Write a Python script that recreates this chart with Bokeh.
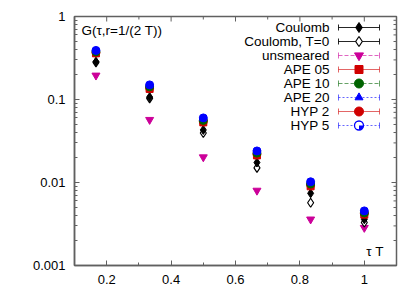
from bokeh.plotting import figure
from bokeh.models import FixedTicker, CustomJSTickFormatter, Range1d
from bokeh.embed import file_html
from bokeh.resources import INLINE
from bokeh.core.properties import value
import math

# ---------------- data ----------------
tau_T = [1/6, 2/6, 3/6, 4/6, 5/6, 1.0]
coulomb      = [0.285, 0.107, 0.043, 0.0174, 0.0074, 0.0036]
coulomb_T0   = [0.280, 0.103, 0.0395, 0.0150, 0.0057, 0.0033]
unsmeared    = [0.195, 0.057, 0.0202, 0.0080, 0.0036, 0.00285]
ape05        = [0.360, 0.134, 0.053, 0.0212, 0.0090, 0.0041]
ape10        = [0.375, 0.142, 0.056, 0.0226, 0.0096, 0.0043]
ape20        = [0.385, 0.148, 0.059, 0.0237, 0.0101, 0.0045]
hyp2         = [0.365, 0.137, 0.054, 0.0218, 0.0093, 0.0042]
hyp5         = [0.390, 0.150, 0.060, 0.0240, 0.0102, 0.00455]

x_ticks = [0.2, 0.4, 0.6, 0.8, 1.0]
x_minor = [0.1, 0.3, 0.5, 0.7, 0.9, 1.1]
y_ticks = [0.001, 0.01, 0.1, 1.0]
title_text = "G(τ,r=1/(2 T))"
xlabel_text = "τ T"

FONT = "Liberation Sans"
MAGENTA = "#cc0099"
RED = "#d00000"
GREEN = "#006400"
BLUE = "#0000ff"
AXC = "#606060"

# series: (label, values, marker, color, fill, dash)
series = [
    ("Coulomb", coulomb, "diamond", "black", "black", "solid"),
    ("Coulomb, T=0", coulomb_T0, "diamond", "black", "white", "solid"),
    ("unsmeared", unsmeared, "inverted_triangle", MAGENTA, MAGENTA, "4 2"),
    ("APE 05", ape05, "square", RED, RED, "solid"),
    ("APE 10", ape10, "circle", GREEN, GREEN, "4 2"),
    ("APE 20", ape20, "triangle", BLUE, BLUE, "2 2"),
    ("HYP 2", hyp2, "circle", RED, RED, "solid"),
    ("HYP 5", hyp5, "circle", BLUE, BLUE, "2 2"),
]
sizes = {"diamond": 9, "inverted_triangle": 8, "square": 7, "circle": 8, "triangle": 7}

W, H = 412, 286
BL, BR, BT, BB = 74, 16, 16, 21
X0, X1 = 0.1, 1.1
Y0, Y1 = 0.001, 1.0

p = figure(width=W, height=H, output_backend="svg", toolbar_location=None,
           x_axis_type="linear", y_axis_type="log",
           x_range=Range1d(X0, X1), y_range=Range1d(Y0, Y1),
           min_border_left=BL, min_border_right=BR, min_border_top=BT, min_border_bottom=BB)
p.xgrid.visible = False
p.ygrid.visible = False
p.outline_line_color = AXC
p.outline_line_width = 1.5
p.background_fill_color = "white"
p.border_fill_color = "white"

FW = W - BL - BR
FH = H - BT - BB
def px2x(px):
    return X0 + (px - BL) / FW * (X1 - X0)
def py2y(py):
    frac = (py - BT) / FH
    return 10 ** (math.log10(Y1) - frac * (math.log10(Y1) - math.log10(Y0)))

fmt = CustomJSTickFormatter(code="return tick.toString();")
y_minor = [m * 10 ** e for e in range(-3, 0) for m in range(2, 10)]

def style_axis(ax, ticks, minor):
    ax.ticker = FixedTicker(ticks=ticks, minor_ticks=minor)
    ax.formatter = fmt
    ax.axis_line_color = AXC
    ax.axis_line_width = 1.5
    ax.major_tick_line_color = AXC
    ax.minor_tick_line_color = AXC
    ax.major_tick_in = 5
    ax.major_tick_out = 0
    ax.minor_tick_in = 3
    ax.minor_tick_out = 0
    ax.major_label_text_font = FONT
    ax.major_label_text_font_size = "13px"
    ax.major_label_text_color = "black"
    ax.major_label_standoff = 9

style_axis(p.xaxis[0], x_ticks, x_minor)
style_axis(p.yaxis[0], y_ticks, y_minor)

# mirrored ticks on top and right edges
top_y_major = py2y(BT + 5)
top_y_minor = py2y(BT + 3)
p.segment(x0=x_ticks, y0=[Y1] * len(x_ticks), x1=x_ticks, y1=[top_y_major] * len(x_ticks),
          line_color=AXC, line_width=1)
p.segment(x0=x_minor, y0=[Y1] * len(x_minor), x1=x_minor, y1=[top_y_minor] * len(x_minor),
          line_color=AXC, line_width=1)
rx_major = px2x(BL + FW - 5)
rx_minor = px2x(BL + FW - 3)
p.segment(x0=[X1] * len(y_ticks), y0=y_ticks, x1=[rx_major] * len(y_ticks), y1=y_ticks,
          line_color=AXC, line_width=1)
p.segment(x0=[X1] * len(y_minor), y0=y_minor, x1=[rx_minor] * len(y_minor), y1=y_minor,
          line_color=AXC, line_width=1)

# data points
order = [2, 1, 0, 3, 6, 4, 5, 7]
for i in order:
    lab, vals, mk, col, fill, dash = series[i]
    p.scatter(x=tau_T, y=vals, marker=mk, size=sizes[mk], line_color=col,
              fill_color=fill, line_width=1.2 if fill == "white" else 1)

# title and x label (frame-relative pixel placement)
p.text(x=[px2x(BL + 7)], y=[py2y(BT + 14)], text=[title_text], text_font=value(FONT),
       text_font_size="13.5px", text_baseline="middle", text_align="left")
p.text(x=[px2x(BL + 309)], y=[py2y(BT + 235)], text=[xlabel_text], text_font=value(FONT),
       text_font_size="13.5px", text_baseline="middle", text_align="right")

# legend (label left, sample right)
row_y = [BT + 11 + 14.0 * k for k in range(len(series))]
lx0, lx1, lxm, ltx = BL + 264, BL + 305, BL + 284.5, BL + 255
for k, (lab, vals, mk, col, fill, dash) in enumerate(series):
    yy = py2y(row_y[k])
    p.text(x=[px2x(ltx)], y=[yy], text=[lab], text_font=value(FONT),
           text_font_size="13.5px", text_baseline="middle", text_align="right")
    la = 0.85 if col == "black" else 0.6
    p.line(x=[px2x(lx0), px2x(lx1)], y=[yy, yy], line_color=col, line_alpha=la,
           line_width=1, line_dash=dash)
    for cx in (lx0, lx1):
        p.line(x=[px2x(cx), px2x(cx)], y=[py2y(row_y[k] - 3), py2y(row_y[k] + 3)],
               line_color=col, line_alpha=la, line_width=1)
    if lab == "HYP 5":
        p.scatter(x=[px2x(lxm)], y=[yy], marker="circle", size=9, line_color=col,
                  fill_color="white", line_width=1.3)
        p.wedge(x=[px2x(lxm)], y=[yy], radius=4.5, radius_units="screen",
                start_angle=-1.5708, end_angle=0.0, fill_color=col, line_color=None)
    else:
        p.scatter(x=[px2x(lxm)], y=[yy], marker=mk, size=sizes[mk] + 1, line_color=col,
                  fill_color=fill, line_width=1.2 if fill == "white" else 1)

open("out.html", "w").write(file_html(p, INLINE))
